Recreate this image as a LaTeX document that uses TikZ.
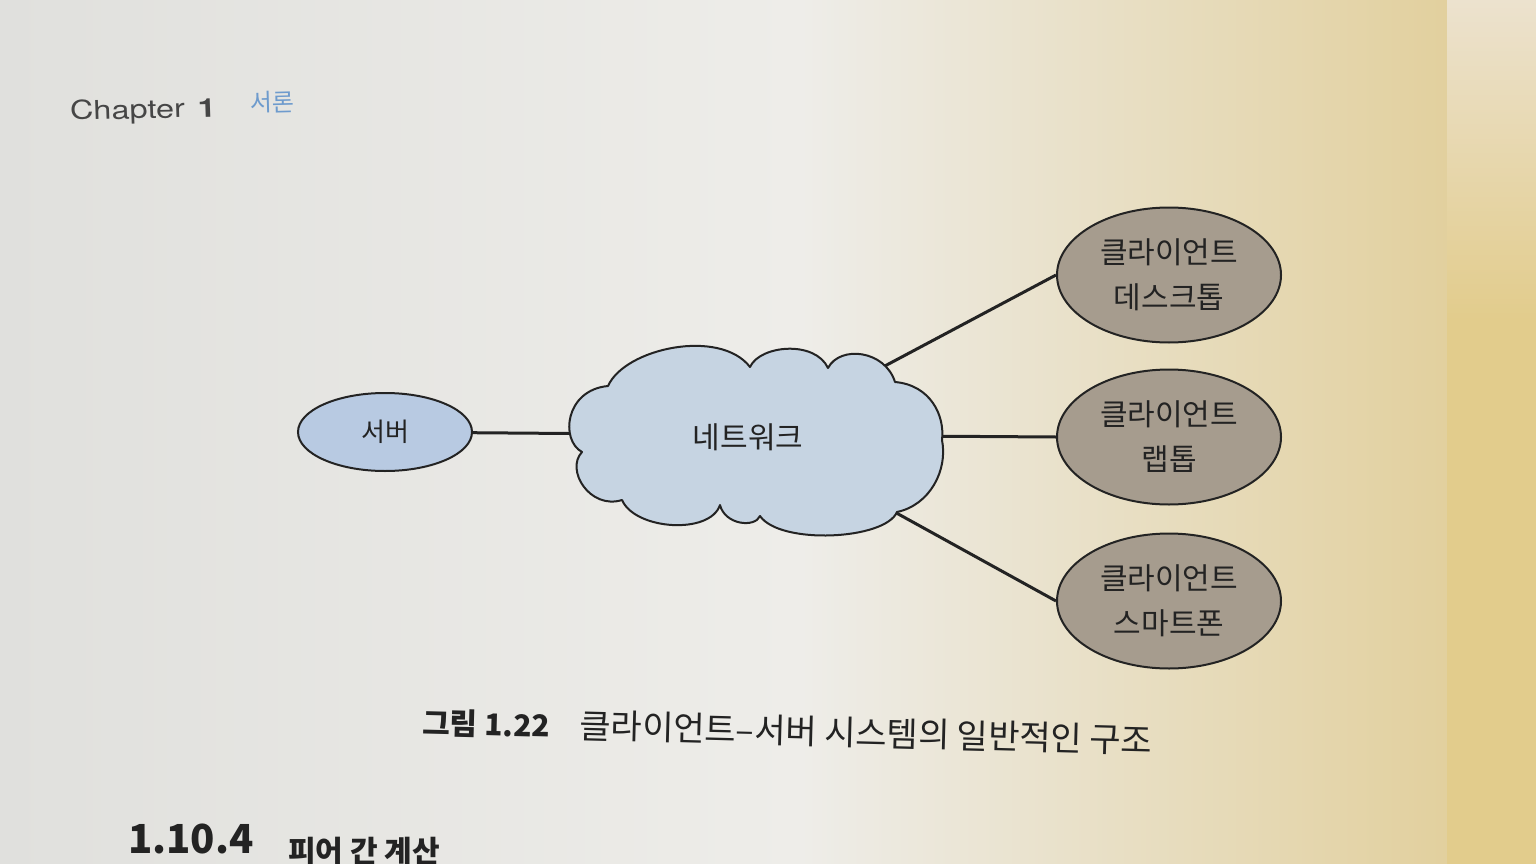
\documentclass[tikz,border=0pt]{standalone}
\usepackage{fontspec}
\setmainfont{Noto Sans CJK KR}
\newfontfamily\heros{TeX Gyre Heros}
\usetikzlibrary{shapes.geometric}
\definecolor{pageL}{RGB}{224,224,221}
\definecolor{pageM}{RGB}{238,237,233}
\definecolor{pageR}{RGB}{226,208,158}
\definecolor{pageTwo}{RGB}{226,204,140}
\definecolor{pageTwoTop}{RGB}{236,226,206}
\definecolor{srvfill}{RGB}{184,202,226}
\definecolor{netfill}{RGB}{198,212,226}
\definecolor{clifill}{RGB}{166,156,142}
\definecolor{ink}{RGB}{35,35,35}
\definecolor{chapgray}{RGB}{70,70,70}
\definecolor{chapblue}{RGB}{110,155,205}
\tikzset{
  shapebox/.style={ellipse, draw=ink, line width=2pt, inner sep=0pt},
  srvbox/.style={shapebox, fill=srvfill, minimum width=174pt, minimum height=78pt},
  clibox/.style={shapebox, fill=clifill, minimum width=224pt, minimum height=135pt},
  lab/.style={text=ink, font=\fontsize{30}{45}\selectfont, align=center},
  wire/.style={draw=ink, line width=3pt},
  cloudst/.style={draw=ink, fill=netfill, line width=2pt, line join=round}
}
\begin{document}
\begin{tikzpicture}[x=1pt,y=-1pt]
\useasboundingbox (0,0) rectangle (1536,864);
% page background
\shade[left color=pageL, right color=pageM] (0,0) rectangle (800,864);
\shade[left color=pageM, right color=pageR] (800,0) rectangle (1447,864);
\fill[pageTwo] (1447,0) rectangle (1536,864);
\shade[top color=pageTwoTop, bottom color=pageTwo] (1447,0) rectangle (1536,320);

% header
\node[anchor=base west, text=chapgray, font=\heros\fontsize{26}{30}\selectfont, xscale=1.25, rotate=1.5, inner sep=0pt] (chap) at (70,120) {Chapter\hspace{0.4em}\textbf{1}};
\node[anchor=base west, text=chapblue, font=\fontsize{24}{30}\selectfont, rotate=1.5, inner sep=0pt] (chtitle) at (250,112) {서론};

% nodes
\node[srvbox, lab, font=\fontsize{26}{30}\selectfont] (server) at (385,432) {서버};
\node[clibox, lab] (desk) at (1169,275) {클라이언트\\데스크톱};
\node[clibox, lab] (lap) at (1169,437) {클라이언트\\랩톱};
\node[clibox, lab] (phone) at (1169,601) {클라이언트\\스마트폰};
\coordinate (netc) at (755,435);

% connectors
\draw[wire] (server) -- (netc);
\draw[wire] (netc) -- (desk.west);
\draw[wire] (netc) -- (lap.west);
\draw[wire] (netc) -- (phone.west);

% cloud
\draw[cloudst] (582,452)
 .. controls (560,440) and (565,390) .. (608,386)
 .. controls (625,348) and (720,328) .. (750,367)
 .. controls (760,345) and (815,340) .. (828,368)
 .. controls (840,345) and (885,350) .. (895,382)
 .. controls (930,385) and (945,415) .. (942,440)
 .. controls (948,470) and (930,505) .. (897,512)
 .. controls (885,540) and (780,545) .. (760,516)
 .. controls (755,528) and (725,525) .. (720,505)
 .. controls (710,535) and (635,530) .. (622,500)
 .. controls (590,510) and (565,470) .. (582,452) -- cycle;
\node[lab] (net) at (748,437) {네트워크};

% caption
\node[anchor=base west, text=ink, font=\fontsize{34}{36}\selectfont, rotate=-1.5, inner sep=0pt] (cap) at (422,734)
  {\fontsize{30}{36}\selectfont\textbf{그림 1.22}\hspace{1em}\fontsize{34}{36}\selectfont 클라이언트–서버 시스템의 일반적인 구조};

% next section heading (cut by page bottom)
\node[anchor=base west, text=ink, font=\fontsize{40}{48}\selectfont, inner sep=0pt] (sec) at (128,853) {\textbf{1.10.4}};
\node[anchor=base west, text=ink, font=\fontsize{30}{36}\selectfont, inner sep=0pt] (sectitle) at (288,862) {\textbf{피어 간 계산}};
\end{tikzpicture}
\end{document}
